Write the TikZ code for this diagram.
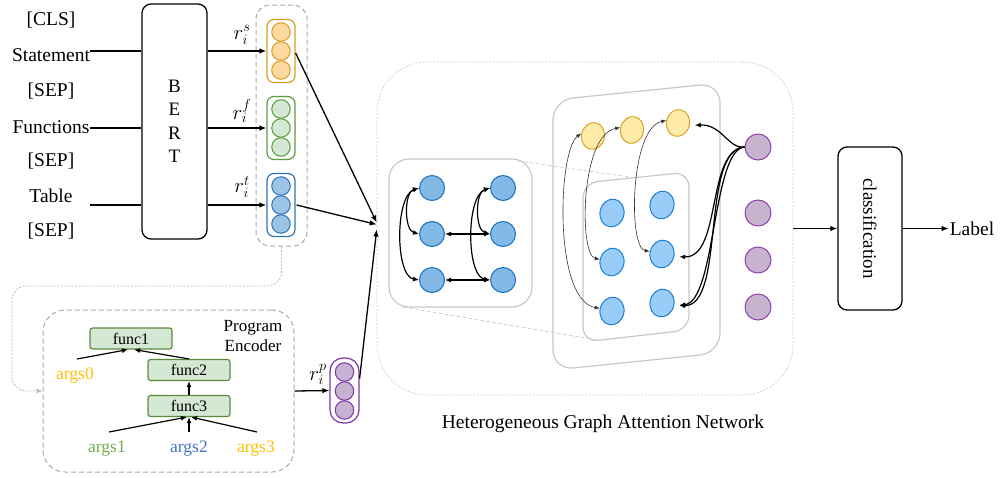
\documentclass[tikz,border=0pt]{standalone}
\usepackage{fontspec}
\setmainfont{Liberation Serif}
\usetikzlibrary{arrows.meta,shapes.geometric,calc}
\definecolor{orF}{HTML}{FDD8A0}
\definecolor{orD}{HTML}{D89E20}
\definecolor{grF}{HTML}{D5E8D4}
\definecolor{grD}{HTML}{5B9B3A}
\definecolor{blF}{HTML}{9DC3E6}
\definecolor{blD}{HTML}{2E75B6}
\definecolor{puF}{HTML}{C6B3D2}
\definecolor{puD}{HTML}{7E35AA}
\definecolor{fnD}{HTML}{5C8A3C}
\definecolor{aYel}{HTML}{FFC000}
\definecolor{aGrn}{HTML}{70AD47}
\definecolor{aBlu}{HTML}{4472C4}
\definecolor{gnF}{HTML}{83B9E6}
\definecolor{gnD}{HTML}{1A6FBF}
\definecolor{inF}{HTML}{99CCF7}
\definecolor{inD}{HTML}{1A7FD6}
\definecolor{yeF}{HTML}{FFEBA8}
\definecolor{yeD}{HTML}{D9A21F}
\definecolor{hpF}{HTML}{C8B4CE}
\definecolor{hpD}{HTML}{8E3EB0}
\definecolor{dashG}{HTML}{AAAAAA}
\definecolor{boxG}{HTML}{C8C8C8}
\newcommand\myrlab[1]{\fontsize{21}{22}\selectfont$r_i^{#1}$}
\begin{document}
\begin{tikzpicture}[x=1pt,y=-1pt,
  every node/.style={font=\fontsize{19.5}{21}\selectfont},
  line/.style={line width=1.3pt},
  arr/.style={line width=1.3pt,-{Latex[length=7pt,width=5.5pt]}},
  sarr/.style={line width=1.2pt,-{Latex[length=6pt,width=5pt]}},
  garr/.style={line width=1.2pt,{Latex[length=6pt,width=5pt]}-{Latex[length=6pt,width=5pt]}},
  tarr/.style={line width=0.6pt,draw=black!80,{Latex[length=5pt,width=4pt]}-{Latex[length=5pt,width=4pt]}},
  parr/.style={line width=1.2pt,-{Latex[length=6pt,width=5pt]},shorten >=5pt},
  blackbox/.style={draw,line width=1.3pt,rounded corners=9},
  vbox/.style={draw,line width=1.2pt,rounded corners=7,minimum width=28,minimum height=63,inner sep=0,fill=white},
  vc/.style={circle,draw,line width=1pt,minimum size=18.5,inner sep=0},
  func/.style={draw=fnD,fill=grF,line width=1.1pt,rounded corners=2.5,minimum width=82,minimum height=21,inner sep=0,font=\fontsize{16}{17}\selectfont},
  argt/.style={font=\fontsize{17.5}{18}\selectfont},
  gbox/.style={draw=boxG,line width=1.2pt},
  gn/.style={circle,draw=gnD,fill=gnF,line width=1pt,minimum size=25,inner sep=0},
  inn/.style={ellipse,draw=inD,fill=inF,line width=1pt,minimum width=24,minimum height=28,inner sep=0,rotate=-12},
  yen/.style={ellipse,draw=yeD,fill=yeF,line width=1pt,minimum width=23,minimum height=27,inner sep=0,rotate=-12},
  hpn/.style={circle,draw=hpD,fill=hpF,line width=1pt,minimum size=26,inner sep=0}]
\useasboundingbox (0,0) rectangle (1000,477);

% input texts
\node (tcls) at (51,20) {[CLS]};
\node (tstm) at (51,55) {Statement};
\node (tsep1) at (51,91) {[SEP]};
\node (tfun) at (51,127) {Functions};
\node (tsep2) at (51,161) {[SEP]};
\node (ttab) at (51,196) {Table};
\node (tsep3) at (51,231) {[SEP]};

% BERT
\node[blackbox,minimum width=65,minimum height=235,align=center,font=\fontsize{19}{23.5}\selectfont] (bert) at (174.5,121.5) {B\\E\\R\\T};
\coordinate (in1) at (90,51);
\coordinate (in2) at (90,128);
\coordinate (in3) at (90,205);
\draw[line] (in1) -- (in1 -| bert.west);
\draw[line] (in2) -- (in2 -| bert.west);
\draw[line] (in3) -- (in3 -| bert.west);

% vector container
\node[draw=dashG,line width=1pt,dash pattern=on 5pt off 3pt,rounded corners=14,minimum width=51,minimum height=241,inner sep=0] (vecs) at (281.5,125.5) {};

\node[vbox,draw=orD] (vs) at (281,51) {};
\node[vc,fill=orF,draw=orD] (vs1) at (281,32) {};
\node[vc,fill=orF,draw=orD] (vs2) at (281,51) {};
\node[vc,fill=orF,draw=orD] (vs3) at (281,70) {};
\node[vbox,draw=grD] (vf) at (281,128) {};
\node[vc,fill=grF,draw=grD] (vf1) at (281,109) {};
\node[vc,fill=grF,draw=grD] (vf2) at (281,128) {};
\node[vc,fill=grF,draw=grD] (vf3) at (281,147) {};
\node[vbox,draw=blD] (vt) at (281,205) {};
\node[vc,fill=blF,draw=blD] (vt1) at (281,186) {};
\node[vc,fill=blF,draw=blD] (vt2) at (281,205) {};
\node[vc,fill=blF,draw=blD] (vt3) at (281,224) {};

\draw[arr] (vs.west -| bert.east) -- (vs.west);
\draw[arr] (vf.west -| bert.east) -- (vf.west);
\draw[arr] (vt.west -| bert.east) -- (vt.west);
\node (rs) at (242,35) {\myrlab{s}};
\node (rf) at (242,111) {\myrlab{f}};
\node (rt) at (242,187) {\myrlab{t}};

% program encoder
\node[draw=dashG,line width=1pt,dash pattern=on 5pt off 3pt,rounded corners=22,minimum width=251,minimum height=162,inner sep=0] (penc) at (168.5,391) {};
\node[align=center,font=\fontsize{17}{20}\selectfont] (ptxt) at (253,336) {Program\\Encoder};
\draw[draw=dashG!80,line width=0.8pt,dash pattern=on 2pt off 1.5pt,rounded corners=14,-{Latex[length=6pt,width=5pt]}] (vecs.south) |- (12,286) |- (penc.west);

\node[func] (f1) at (131,338.5) {func1};
\node[func] (f2) at (189,370) {func2};
\node[func] (f3) at (189,406) {func3};
\node[argt,text=aYel] (a0) at (75,376) {args0};
\node[argt,text=aGrn] (a1) at (107,449) {args1};
\node[argt,text=aBlu] (a2) at (189,449) {args2};
\node[argt,text=aYel] (a3) at (256,449) {args3};
\coordinate (a0t) at (77,359);
\coordinate (a1t) at (109,432);
\coordinate (a2t) at (189,432);
\coordinate (a3t) at (257,432);
\draw[sarr] (a0t) -- ([xshift=-3pt]f1.south);
\draw[sarr] (f2.north) -- ([xshift=3pt]f1.south);
\draw[sarr] (f3.north) -- (f2.south);
\draw[sarr] (a1t) -- ([xshift=-2pt]f3.south);
\draw[sarr] (a2t) -- (f3.south);
\draw[sarr] (a3t) -- ([xshift=2pt]f3.south);

% program vector
\node[vbox,draw=puD,minimum width=29,minimum height=65,rounded corners=13] (vp) at (344.5,390.5) {};
\node[vc,fill=puF,draw=puD] (vp1) at (344.5,372) {};
\node[vc,fill=puF,draw=puD] (vp2) at (344.5,391) {};
\node[vc,fill=puF,draw=puD] (vp3) at (344.5,410) {};
\draw[arr] (penc.east) -- (vp.west);
\node (rp) at (318,374) {\myrlab{p}};

% HGAT container
\node[draw=boxG,line width=0.6pt,dash pattern=on 2pt off 1.5pt,rounded corners=50,minimum width=416,minimum height=333,inner sep=0] (hgat) at (585,228.5) {};
\node (htxt) at (603,424) {Heterogeneous Graph Attention Network};
\draw[arr] ($(vs.east)+(0,2)$) -- ([yshift=6pt]hgat.west);
\draw[arr] ($(vt.east)+(1,0)$) -- ([yshift=4pt]hgat.west);
\draw[arr] ([yshift=12pt]vp.east) -- ([yshift=-1pt]hgat.west);

% left graph
\node[gbox,rounded corners=20,minimum width=143,minimum height=148,inner sep=0] (gl) at (460.5,233) {};
\node[gn] (l11) at (432,188) {};
\node[gn] (l12) at (503,188) {};
\node[gn] (l21) at (432,234) {};
\node[gn] (l22) at (503,234) {};
\node[gn] (l31) at (432,280) {};
\node[gn] (l32) at (503,280) {};
\draw[garr] (l11.west) .. controls (404,192) and (404,230) .. (l21.west);
\draw[garr] (l11.west) .. controls (395,196) and (395,276) .. (l31.west);
\draw[garr] (l12.west) .. controls (475,192) and (475,230) .. (l22.west);
\draw[garr] (l12.west) .. controls (466,196) and (466,276) .. (l32.west);
\draw[garr] (l21.east) -- (l22.west);
\draw[garr] (l31.east) -- (l32.west);

% middle slanted boxes
\draw[gbox,rounded corners=20] (553,100) -- (720,83) -- (720,353) -- (553,370) -- cycle;
\draw[gbox,rounded corners=15] (583,183) -- (689,172) -- (689,330) -- (583,342) -- cycle;
\coordinate (zl1) at (518,161);
\coordinate (zl2) at (637,178);
\coordinate (zl3) at (403,307);
\coordinate (zl4) at (597,340);
\draw[draw=boxG,line width=0.6pt,dash pattern=on 4pt off 2pt] (zl1) -- (zl2);
\draw[draw=boxG,line width=0.6pt,dash pattern=on 4pt off 2pt] (zl3) -- (zl4);

\node[yen] (y1) at (593,136) {};
\node[yen] (y2) at (632,130) {};
\node[yen] (y3) at (678,123) {};
\node[inn] (m11) at (612,213) {};
\node[inn] (m12) at (662,205) {};
\node[inn] (m21) at (612,262) {};
\node[inn] (m22) at (662,254) {};
\node[inn] (m31) at (612,311) {};
\node[inn] (m32) at (662,303) {};
\node[hpn] (p1) at (758,147) {};
\node[hpn] (p2) at (758,213) {};
\node[hpn] (p3) at (758,260) {};
\node[hpn] (p4) at (758,307) {};

\draw[tarr] (y1.west) .. controls (558,150) and (553,300) .. (m31.west);
\draw[tarr] (y2.west) .. controls (580,135) and (579,255) .. (m21.west);
\draw[tarr] (y3.west) .. controls (630,128) and (628,248) .. (m22.west);
\draw[parr] (p1.west) .. controls (728,149) and (722,124) .. (y3.east);
\draw[parr] (p1.west) .. controls (706,150) and (722,258) .. (m22.east);
\draw[parr] (p1.west) .. controls (700,150) and (726,306) .. (m32.east);
\draw[parr] (p1.west) .. controls (712,150) and (716,302) .. (m32.east);

% classification
\node[blackbox,minimum width=64,minimum height=163,inner sep=0] (cbox) at (870,228.5) {};
\node[rotate=-90,font=\fontsize{19}{20}\selectfont] (ctxt) at (cbox.center) {classification};
\node[inner sep=1pt] (lab) at (972,228.5) {Label};
\draw[arr] (hgat.east) -- (cbox.west);
\draw[arr] (cbox.east) -- (lab.west);
\end{tikzpicture}
\end{document}
